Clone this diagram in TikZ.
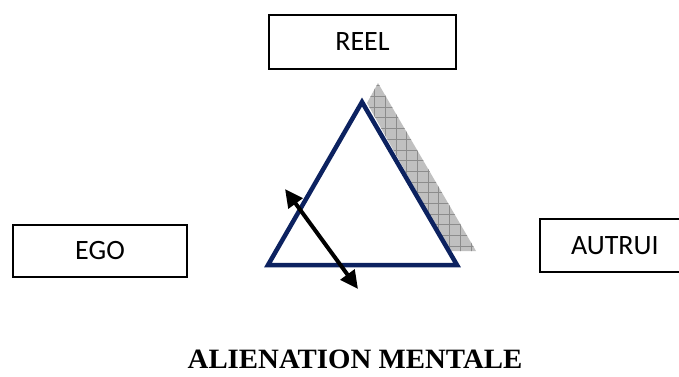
\documentclass[tikz,border=0pt]{standalone}
\usepackage{fontspec}
\newfontfamily\calib{Carlito}
\newfontfamily\timesf{Liberation Serif}
\usetikzlibrary{arrows.meta}
\definecolor{navy}{RGB}{12,34,96}
\definecolor{shadefill}{RGB}{192,192,192}
\definecolor{shadegrid}{RGB}{140,140,140}
\tikzset{
  labelbox/.style={draw=black, line width=1.6pt, inner sep=0pt, font=\calib\fontsize{28}{30}\selectfont},
  tri/.style={draw=navy, line width=4.5pt, line join=miter},
  dblarrow/.style={line width=4pt, {Triangle[length=18pt,width=17pt]}-{Triangle[length=18pt,width=17pt]}},
}
\begin{document}
\begin{tikzpicture}[x=1pt,y=-1pt]
\useasboundingbox (0,0) rectangle (679,376);
% boxes
\node[labelbox, minimum width=187pt, minimum height=54pt] (reel) at (362.5,42) {REEL};
\node[labelbox, minimum width=174pt, minimum height=52pt] (ego) at (100,251) {EGO};
\begin{scope}
\clip (0,0) rectangle (679,376);
\node[labelbox, minimum width=145pt, minimum height=53pt, text width=141pt, align=left] (autrui) at (612.5,245.5) {\hspace*{29pt}AUTRUI};
\end{scope}
% shadow
\coordinate (s1) at (367,103);
\coordinate (s2) at (378,83);
\coordinate (s3) at (476,251);
\coordinate (s4) at (450,251);
\begin{scope}
\clip (s1) -- (s2) -- (s3) -- (s4) -- cycle;
\fill[shadefill] (360,80) rectangle (480,255);
\draw[shadegrid, line width=0.6pt, step=10.7pt] (360,80) grid (480,255);
\end{scope}
% triangle
\coordinate (top) at (362,102);
\coordinate (bl) at (268,265);
\coordinate (br) at (457,265);
\draw[tri] (top) -- (bl) -- (br) -- cycle;
% arrow
\coordinate (a1) at (285,189);
\coordinate (a2) at (358,289);
\draw[dblarrow] (a1) -- (a2);
% title
\node[font=\timesf\bfseries\fontsize{28}{30}\selectfont, xscale=1.03, transform shape] (title) at (355,359) {ALIENATION MENTALE};
\end{tikzpicture}
\end{document}
